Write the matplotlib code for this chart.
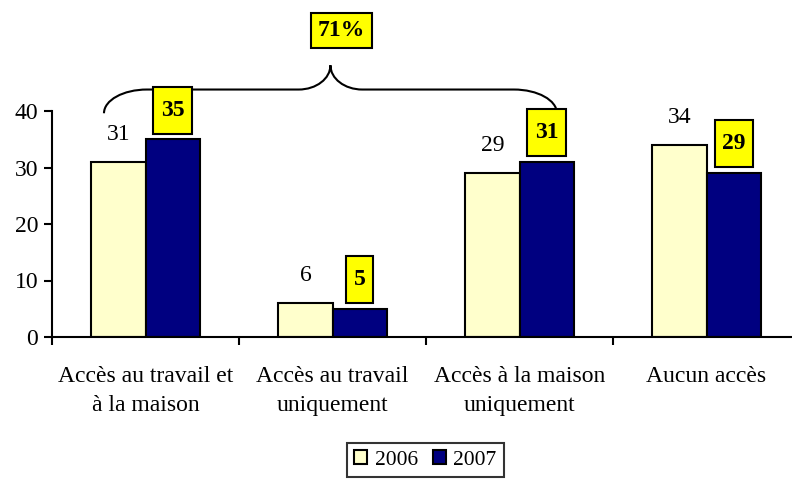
import numpy as np
import matplotlib
matplotlib.use("Agg")
import matplotlib.pyplot as plt
from matplotlib.path import Path
from matplotlib.patches import PathPatch

plt.rcParams['font.family'] = ['Liberation Serif', 'DejaVu Serif']

# data
categories = ["Accès au travail et\nà la maison", "Accès au travail\nuniquement",
              "Accès à la maison\nuniquement", "Aucun accès"]
years = ["2006", "2007"]
values_2006 = [31, 6, 29, 34]
values_2007 = [35, 5, 31, 29]
total_label = "71%"

col_2006 = "#FFFFCC"
col_2007 = "#000080"
fs = 17


def tall_box(x0, y0, width, height, mutation_size):
    # yellow label box, more padding above/below than on the sides
    px = 0.31 * mutation_size
    py = 0.55 * mutation_size
    x0, y0 = x0 - px, y0 - py
    x1, y1 = x0 + width + 2 * px, y0 + height + 2 * py
    return Path([(x0, y0), (x1, y0), (x1, y1), (x0, y1), (x0, y0)],
                closed=True)


fig = plt.figure(figsize=(7.92, 4.8), dpi=100)
ax = fig.add_axes([52 / 792, 143 / 480, 748 / 792, 226 / 480])

x = np.arange(len(categories))
w = 0.29
b1 = ax.bar(x - w / 2, values_2006, w, color=col_2006, edgecolor="black",
            linewidth=1.5, label=years[0])
b2 = ax.bar(x + w / 2, values_2007, w, color=col_2007, edgecolor="black",
            linewidth=1.5, label=years[1])

for xi, v in zip(x - w / 2, values_2006):
    ax.annotate(str(v), (xi, v), xytext=(0, 20), textcoords="offset points",
                ha="center", va="center", fontsize=fs)
for xi, v in zip(x + w / 2, values_2007):
    ax.annotate(str(v), (xi, v), xytext=(0, 21), textcoords="offset points",
                ha="center", va="center", fontsize=fs, fontweight="bold",
                bbox=dict(boxstyle=tall_box, fc="#FFFF00", ec="black", lw=1.5))

# brace over first and third categories
xl, xr = -0.222, 2.20
xm = (xl + xr) / 2
y0, yh, yc = 39.6, 43.8, 48.1
k = 0.552
rl, rc = 0.23, 0.17
verts = [(xl, y0), (xl, y0 + k * (yh - y0)), (xl + rl - k * rl, yh), (xl + rl, yh),
         (xm - rc, yh),
         (xm - rc + k * rc, yh), (xm, yc - k * (yc - yh)), (xm, yc),
         (xm, yc - k * (yc - yh)), (xm + rc - k * rc, yh), (xm + rc, yh),
         (xr - rl, yh),
         (xr - rl + k * rl, yh), (xr, y0 + k * (yh - y0)), (xr, y0)]
codes = [Path.MOVETO, Path.CURVE4, Path.CURVE4, Path.CURVE4, Path.LINETO,
         Path.CURVE4, Path.CURVE4, Path.CURVE4,
         Path.CURVE4, Path.CURVE4, Path.CURVE4, Path.LINETO,
         Path.CURVE4, Path.CURVE4, Path.CURVE4]
ax.add_patch(PathPatch(Path(verts, codes), fill=False, lw=1.5, clip_on=False))
ax.text(xm + 0.06, 54.3, total_label, ha="center", va="center", fontsize=fs,
        fontweight="bold",
        bbox=dict(boxstyle="square,pad=0.3", fc="#FFFF00", ec="black", lw=1.5))

ax.set_xlim(-0.5, len(categories) - 0.5)
ax.set_ylim(0, 40)
ax.set_yticks([0, 10, 20, 30, 40])
ax.set_xticks(x)
ax.set_xticklabels(categories, fontsize=fs, linespacing=1.5)
ax.set_xticks(np.arange(len(categories) + 1) - 0.5, minor=True)
ax.tick_params(axis="x", which="major", length=0, pad=21)
ax.tick_params(axis="x", which="minor", length=6, width=1.5, direction="out")
ax.tick_params(axis="y", length=6, width=1.5, labelsize=fs, pad=4)
for s in ["top", "right"]:
    ax.spines[s].set_visible(False)
for s in ["left", "bottom"]:
    ax.spines[s].set_linewidth(1.5)

leg = fig.legend(handles=[b1, b2], labels=years, loc="center",
                 bbox_to_anchor=(425.5 / 792, 1 - 460 / 480), ncol=2,
                 fontsize=15.5, frameon=True, fancybox=False,
                 handlelength=0.6, handleheight=0.6, handletextpad=0.35,
                 columnspacing=0.7, borderpad=0.35, borderaxespad=0)
leg.get_frame().set_edgecolor("black")
leg.get_frame().set_linewidth(1.5)

fig.savefig("out.png", dpi=100)
